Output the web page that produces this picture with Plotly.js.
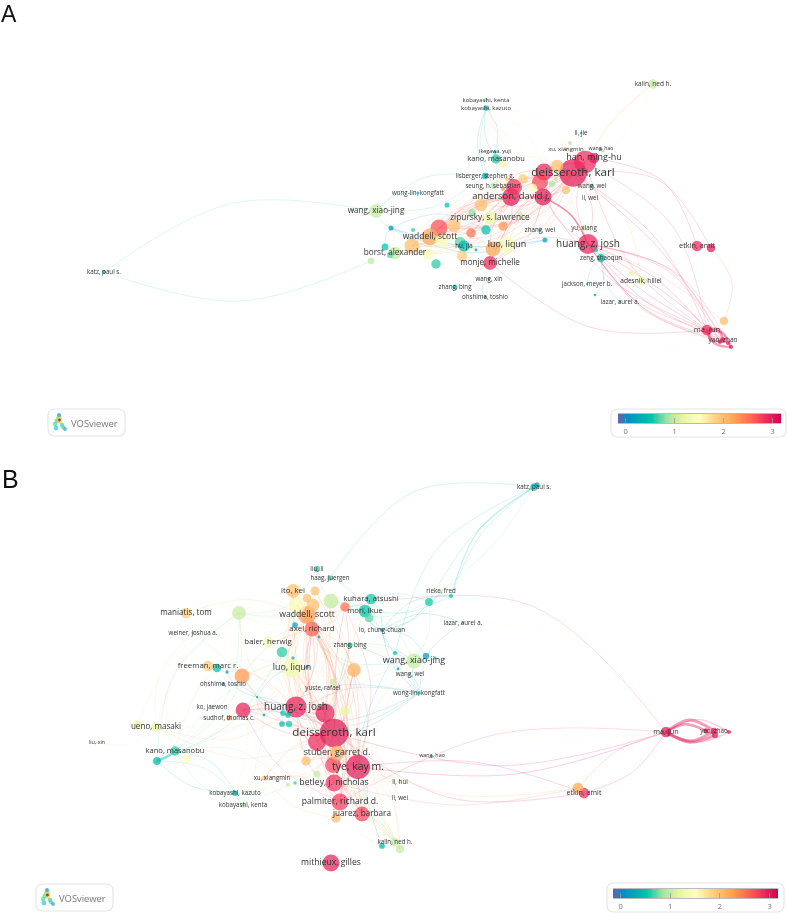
<!DOCTYPE html>
<html>
<head>
<meta charset="utf-8">
<script src="https://cdn.plot.ly/plotly-3.0.1.min.js"></script>
<style>
html,body{margin:0;padding:0;background:#fff}
#chart{width:787px;height:913px;filter:blur(0.45px)}
</style>
</head>
<body>
<div id="chart"></div>
<script>
"use strict"

// colour legend
var stopValues = [-0.155,0.05,0.52,0.85,1.15,1.5,1.85,2.25,2.6,2.85,3.17];
var stopColors = ['#6a62ae','#0090c4','#00c4a8','#a0e4a4','#e6f4a0','#ffffc0','#ffd080','#ffa050','#ff6050','#f03060','#d0004f'];
var legendTicks = [0,1,2,3];

// panel A network in page pixels
var xA = [573,585,594,544,540,543,511,514,557,523, 566,503,496,495,485,493,503,507,552,556,
	533,592,566,570,601,603,581,653,486,486, 418,447,376,353,481,472,490,520,503,486,
	471,454,439,430,442,460,464,412,395,391, 413,385,390,371,428,436,462,476,507,493,
	490,545,540,584,588,596,601,697,711,641, 632,489,455,485,587,595,620,724,707,723,
	720,731,728,104,590];
var yA = [173,162,158,172,182,197,197,187,166,179, 190,164,159,152,176,186,189,179,184,179,
	188,186,149,143,149,151,133,84,100,108, 193,205,211,210,205,213,218,214,226,230,
	233,226,228,237,241,242,246,246,253,228, 230,247,255,261,254,264,256,250,245,249,
	263,240,230,228,244,250,258,246,248,281, 273,279,287,297,284,295,302,321,330,340,
	342,347,343,272,198];
var radiusA = [13,10.5,5,8,7.5,8,8.5,7.5,6,4.5, 4,3.5,4.5,1.5,3,2.5,2,2,3,1.8,
	4,2,1.8,1.8,1.2,1.5,1.2,4.5,1.8,2.5, 1.4,2.4,6.5,1,6,3.5,6,2.4,4.3,4.5,
	4.5,6,8,8,6.5,5,5.5,7,6,2.4, 2,3.3,3,3,5.3,4.5,5,1.4,8,7,
	6.5,2.4,1.4,2.7,9.5,2,4,5,4,4, 2.7,1.4,2.4,1.4,1,1.2,1,4,5,2.7,
	2,2,2,2,0.8];
var valueA = [3,2.9,3,2.95,2.75,3,3,2.85,2,1.9, 2,1.6,0.6,0.1,0.3,0.9,2.3,2,0.9,0.9,
	1.5,0.3,2,0.9,0.05,2,0.4,1,0.8,0.4, 0.2,0.5,1,0.3,2,0.8,1.2,1,2.3,0.5,
	2.5,2,2.7,2.2,1.4,0.7,0.4,2,1,0.1, 0.6,0.5,0.7,0.95,1.4,0.6,1.9,0.1,1.4,2.2,
	2.9,0.2,0.4,1,2.95,0.5,0.45,2.9,3,1.2, 1.2,0.2,0.45,0.1,0.3,0.1,0,2,2.9,3,
	3,3,3,0.45,1];
var labelA = {0:'deisseroth, karl',2:'han, ming-hu',6:'anderson, david j.',12:'kano, masanobu',13:'ikegawa, yuji',
	14:'lisberger, stephen g.',15:'seung, h. sebastian',21:'wang, wei',22:'xu, xiangmin',24:'wang, hao',26:'li, jie',
	27:'kalin, ned h.',28:'kobayashi, kenta',29:'kobayashi, kazuto',30:'wong-lin, kongfatt',32:'wang, xiao-jing',
	36:'zipursky, s. lawrence',43:'waddell, scott',46:'hu, jia',48:'borst, alexander',58:'luo, liqun',60:'monje, michelle',
	62:'zhang, wei',63:'yu, xiang',64:'huang, z. josh',66:'zeng, shaoqun',67:'etkin, amit',69:'adesnik, hillel',
	71:'wang, xin',72:'zhang, bing',73:'ohshima, toshio',74:'jackson, meyer b.',76:'lazar, aurel a.',78:'ma, jun',
	79:'yao, zhao',83:'katz, paul s.',84:'li, wei'};
var fontA = {0:11.6,2:9,6:9.4,12:7.4,13:5.4,22:6,24:5.2,28:6,29:6,32:8.2,36:8.3,43:8.5,48:8.2,58:8.9,60:8.1,64:10,67:7.3,69:6.6,78:7.6,79:6.6,27:6.5};

var hubsA = [
	[0,[3,4,5,6,7,8,9,11,12,14,15,20,22,34,36,42,43,47,58,59,60,64,63,66,21,26,10,38,40,41,44,54,48,69]],
	[1,[64,78,79,5,6,42,43,58,60,24,25]],
	[64,[78,79,80,81,82,69,70,66,5,3,74,65,71]],
	[6,[34,36,42,43,47,48,44,54,58,59,60,40,41,38,35,31,12,13]],
	[5,[42,43,47,58,59,60,38,36,40,39,61]],
	[42,[43,47,48,41,34,36,44,51,50]],
	[43,[47,48,44,54,41,36,58,59,55]],
	[32,[49,30,14,42,47,48,33]],
	[29,[12,13,14,28,15,3,0,1]],
	[58,[59,60,41,40,56,45,38,62]],
	[60,[71,73,72,64,45,55]],
	[64,[79,80]],
	[66,[74,75,76,70]],
	[49,[51,47,46,39,61]]
];
var arcsA = [
	[83,32,0.14,1],[83,53,-0.13,1],[60,78,-0.14,0.9],[2,67,0.2,0.9],[1,27,0.06,1.2],[25,27,-0.12,0.8],
	[68,77,0.2,0.9],[5,64,0.12,1.6],[64,79,-0.08,1],[64,78,0.08,1],[64,81,0.03,1],[64,78,-0.04,1],[0,79,0.06,0.9],[5,78,-0.1,0.9],
	[0,78,0.1,0.9],[0,68,0.22,0.8],
	[78,79,0.35,2.5],[78,79,-0.35,2.5],[78,81,0.22,2.5],[78,81,-0.22,2.5],[76,82,-0.05,0.7],[49,61,-0.08,1.2],
	[71,79,-0.16,0.7],[77,64,-0.05,0.8],[29,43,0.2,0.9],[14,32,-0.15,0.9],[28,3,-0.15,0.8],[12,42,0.12,0.9],[27,20,0.14,0.7],
	[7,47,0.1,1.1],[6,42,-0.06,1.2],[3,43,0.08,1],[13,35,0.2,0.8],[4,48,0.08,0.9],[72,60,-0.2,0.8],[73,71,0.25,0.8]
];

// panel B network
var xB = [334,358,296,325,317,243,333,334,340,362, 336,337,331,306,345,333,323,354,242,292,
	282,268,208,217,227,223,257,264,212,229, 283,288,282,289,293,307,156,137,175,157,
	187,97,235,243,264,288,295,317,400,400, 432,395,400,382,419,410,398,414,426,435,
	395,350,382,312,319,295,307,313,297,307, 293,315,331,330,317,345,371,365,369,239,
	186,193,441,451,429,463,534,666,714,706, 715,729,584,578,272,537];
var yB = [733,767,707,713,742,710,765,783,802,814, 818,753,863,761,711,682,688,670,676,668,
	652,642,666,668,672,684,697,715,707,718, 713,715,724,724,658,667,727,725,751,761,
	759,743,793,805,778,785,783,774,782,798, 756,842,849,846,693,674,669,661,656,658,
	653,645,630,629,637,625,615,605,605,598, 591,591,601,578,569,607,599,611,618,613,
	613,633,591,596,602,623,487,732,731,731, 735,732,793,788,778,485];
var radiusB = [13.5,11.5,10,9,8.5,7,7.5,8,8,7, 4.5,7,8,4.5,4.5,3,1,6.5,7,9,
	5,5,5,4,1.6,1.6,1,1.3,2,2.4, 2.7,2.7,2.7,3,1.6,1.6,4.5,4.5,4.5,3.7,
	4,1.2,2.7,2.4,2.4,2,1.7,3.3,1.7,1, 1,4,4,2.7,1.7,1,1.3,7,3,1.3,
	2,2.4,1.7,7,1.3,2.7,8.5,6,8,4, 6.5,4.3,7,2.7,3,4.5,5,6,4,6.5,
	5,2,1.7,2,3.7,1,3.5,5,3,2.5, 3,2,5,5,0.8,2.5];
var valueB = [3,3,2.95,2.95,2.9,2.95,2.75,2.85,2.8,2.75, 2,2.1,2.95,2,1.2,1,1,2.1,2.3,1.3,
	0.6,1.3,1.9,0.5,0.1,0.05,0,0.15,1,2.4, 0.5,0.45,0.4,0.55,0.4,0.2,1.2,1.3,0.6,0.4,
	1.5,1.1,0.45,0.9,2,1,0.6,1,1,1, 0.1,1,1,0.4,0.1,0.2,0.1,1,0.2,0.3,
	0.45,0.45,0.05,2.6,0.1,0.2,2.3,2,1.4,2, 2,2,1,0.7,0.6,2.5,0.55,0.5,0.7,1,
	1.9,0.9,1,0.5,0.55,0.1,0.45,3,3,3, 3,3,2.9,2.2,2,0.2];
var labelB = {0:'deisseroth, karl',1:'tye, kay m.',2:'huang, z. josh',7:'betley, j. nicholas',8:'palmiter, richard d.',
	9:'juarez, barbara',11:'stuber, garret d.',12:'mithieux, gilles',16:'yuste, rafael',19:'luo, liqun',21:'baier, herwig',
	22:'freeman, marc r.',25:'ohshima, toshio',28:'ko, jaewon',29:'sudhof, thomas c.',36:'ueno, masaki',38:'kano, masanobu',
	41:'liu, xin',42:'kobayashi, kazuto',43:'kobayashi, kenta',94:'xu, xiangmin',48:'li, hui',49:'li, wei',50:'wang, hao',
	51:'kalin, ned h.',54:'wong-lin, kongfatt',55:'wang, wei',57:'wang, xiao-jing',61:'zhang, bing',62:'lo, chung-chuan',
	63:'axel, richard',66:'waddell, scott',70:'ito, kei',73:'haag, juergen',74:'liu, li',76:'kuhara, atsushi',77:'mori, ikue',
	80:'maniatis, tom',81:'weiner, joshua a.',82:'rieke, fred',85:'lazar, aurel a.',86:'katz, paul s.',87:'ma, jun',88:'yao, zhao',92:'etkin, amit'};
var fontB = {0:11.6,1:10.5,2:10,7:8.7,8:8.6,9:8.2,11:8.9,12:8.6,19:8.9,21:7.8,22:7.8,36:8.1,38:7.6,57:9,63:7.9,66:8.7,70:7.8,76:7.8,77:7.6,80:8.1,87:7.3,92:7.1,50:5.4,41:5.4};
var fontSmall = 6.2;

var hubsB = [
	[0,[2,3,4,6,7,8,9,10,11,13,14,15,17,19,5,18,66,63,68,70,72,57,48,49,51,52,47,45,44,27,33,36,38]],
	[1,[3,4,6,7,8,9,10,11,13,14,17,19,66,63,51,52,48,49,50,53,75]],
	[2,[3,4,5,18,19,20,63,66,67,68,72,77,6,7,8,9,17,79,22,36]],
	[3,[66,63,17,19,75,68,70,4,6,7,8]],
	[66,[19,63,67,68,69,70,71,72,75,21,20,79,80,18,17,14,13,47,11]],
	[63,[19,20,21,72,75,77,18,17,15,14,11,70]],
	[19,[18,21,79,22,23,29,28,36,38,11,13,60,57]],
	[79,[80,70,72,81,37,22,36,38]],
	[57,[54,55,56,58,59,60,61,62,77,76,84,65,19]],
	[62,[84,83,82,77,76,78,60,85,54,58,72]],
	[54,[27,26,31,33,61,30,55,85]],
	[26,[5,29,25,24,30,31,27,35,18]],
	[38,[39,42,43,37,36,21,19,45]],
	[39,[42,43,40,79,20]],
	[36,[37,41,40,81,22]],
	[51,[8,9,52,53,7,1,11]],
	[52,[9,1,7,8,47]],
	[42,[43,44,45,7,13]],
	[44,[10,8,11,13]],
	[5,[26,27,29,30,32,4,0,7,8]],
	[84,[82,83,76,72]]
];
var arcsB = [
	[86,83,-0.13,1.3],[86,83,-0.1,0.8],[86,84,-0.08,0.8],[86,73,-0.2,0.9],[86,60,-0.16,0.8],[86,82,0.06,0.7],
	[85,87,0.18,0.9],[75,87,0.2,0.9],[54,87,-0.1,0.8],[87,88,0.24,3],[87,88,-0.2,3],[87,89,0.18,2.5],[87,90,-0.18,3],
	[87,91,0.2,1.4],[87,91,-0.16,1.4],[88,91,0.2,1],[87,1,0.08,1],[87,0,0.1,0.9],[87,92,0.12,0.9],
	[87,93,-0.1,0.9],[87,8,-0.1,0.8],[93,7,0.08,0.9],[92,1,-0.08,0.9],[92,0,0.14,0.9],[93,11,0.1,0.8],[38,39,0.05,2.5],[38,40,-0.05,1.6],
	[79,38,0.2,0.9],[81,43,0.25,0.9],[80,43,0.2,0.9],[22,42,0.2,0.9],[70,9,-0.1,1],[72,52,-0.15,0.9],[76,51,-0.2,0.9],[77,8,-0.12,0.9],
	[61,51,-0.2,0.9],[57,51,-0.18,0.9],[57,1,-0.1,0.9],[60,53,-0.15,0.9],[17,9,-0.1,1],[17,1,-0.1,1.2],[66,8,0.1,1],[66,9,-0.1,1],
	[63,8,0.12,1],[19,8,0.12,1],[19,7,0.1,1],[75,1,-0.1,1],[72,1,-0.08,0.9],[78,1,-0.12,0.9],[77,0,-0.15,0.9],[21,7,0.15,0.9],
	[20,0,0.1,1],[68,1,0.1,1],[68,0,0.1,1],[70,0,0.12,1],[71,1,0.1,1],[73,77,0.1,0.9],[74,72,-0.1,0.9],[74,70,0.1,0.9],
	[73,79,0.2,0.9],[74,79,0.2,0.9],[82,72,0.1,0.9],[83,77,0.1,0.9]
];

// logo blobs and colours
var logoXA = [56,55,57,59,59,60,62,63,65], logoYA = [428,424,421,418,415,422,425,427,429];
var logoRadius = [2.4,2.2,2.4,2.8,2,2,2.2,2.2,2];
var logoColor = ['#30c0f0','#40e080','#50d0a0','#a0e040','#1890e0','#f0d030','#40c0f0','#60e060','#30a0f0'];
var logoHot = ['#e02020'];

var colorscale = stopValues.map(function(v,i){
	return [(v-stopValues[0])/(stopValues[stopValues.length-1]-stopValues[0]),stopColors[i]];
});

function valueColor(v){
	for(var i=1;i<stopValues.length;i++){
		if(v<=stopValues[i]){
			var t = (v-stopValues[i-1])/(stopValues[i]-stopValues[i-1]);
			var a = stopColors[i-1], b = stopColors[i], c = [];
			for(var k=1;k<7;k+=2){
				var p = parseInt(a.substr(k,2),16), q = parseInt(b.substr(k,2),16);
				c.push(Math.round(p+(q-p)*t));
			}
			return 'rgb('+c.join(',')+')';
		}
	}
	return stopColors[stopColors.length-1];
}

function linkTrace(xs,ys,vs,from,to,bend,width,xa,ya,opacity){
	var dx = xs[to]-xs[from], dy = ys[to]-ys[from];
	return {
		x:[xs[from],(xs[from]+xs[to])/2+dy*bend,xs[to]],
		y:[ys[from],(ys[from]+ys[to])/2-dx*bend,ys[to]],
		xaxis:xa, yaxis:ya,
		mode:'lines',
		line:{shape:'spline',smoothing:1,width:width,color:valueColor((vs[from]+vs[to])/2)},
		opacity:opacity,
		hoverinfo:'skip',
		showlegend:false
	};
}

function panelTraces(xs,ys,rs,vs,labels,fonts,hubs,arcs,xa,ya){
	var out = [];
	hubs.forEach(function(h){
		h[1].forEach(function(t,i){
			// curves lean both ways in the hairball
			out.push(linkTrace(xs,ys,vs,h[0],t,i%2?0.16:-0.12,0.9,xa,ya,0.18));
		});
	});
	arcs.forEach(function(a){
		out.push(linkTrace(xs,ys,vs,a[0],a[1],a[2],a[3],xa,ya,a[3]>1.5?0.42:0.2));
	});
	out.push({
		x:xs, y:ys, xaxis:xa, yaxis:ya,
		mode:'markers+text',
		text:xs.map(function(d,i){return labels[i]||''}),
		textposition:'middle center',
		textfont:{family:'Open Sans, sans-serif',color:'#333',size:xs.map(function(d,i){return fonts[i]||fontSmall})},
		marker:{size:rs.map(function(r){return r*2.12}),color:vs,colorscale:colorscale,
			cmin:stopValues[0],cmax:stopValues[stopValues.length-1],opacity:0.72,line:{width:0}},
		cliponaxis:false,
		hoverinfo:'text',
		showlegend:false
	});
	return out;
}

function legendBar(xa,ya){
	var levels = [];
	for(var v=-0.155;v<=3.17;v+=0.025) levels.push(v);
	return {
		type:'heatmap', x:levels, y:[0], z:[levels], xaxis:xa, yaxis:ya,
		colorscale:colorscale, zmin:stopValues[0], zmax:stopValues[stopValues.length-1],
		showscale:false, hoverinfo:'skip'
	};
}

function logoTraces(dx,dy,xa,ya){
	return [{
		x:logoXA.map(function(x){return x+dx}), y:logoYA.map(function(y){return y+dy}),
		xaxis:xa, yaxis:ya, mode:'markers',
		marker:{size:logoRadius.map(function(r){return r*2}),color:logoColor,line:{width:0}},
		hoverinfo:'skip', showlegend:false
	},{
		x:[59.5+dx], y:[420+dy], xaxis:xa, yaxis:ya, mode:'markers',
		marker:{size:2.8,color:logoHot,line:{width:0}},
		hoverinfo:'skip', showlegend:false
	}];
}

function roundBox(x0,y0,x1,y1,xr,yr){
	var r = 7;
	return {
		type:'path', xref:xr, yref:yr, layer:'below',
		path:'M'+(x0+r)+','+y0+' L'+(x1-r)+','+y0+' Q'+x1+','+y0+' '+x1+','+(y0+r)+' L'+x1+','+(y1-r)+' Q'+x1+','+y1+' '+(x1-r)+','+y1+
			' L'+(x0+r)+','+y1+' Q'+x0+','+y1+' '+x0+','+(y1-r)+' L'+x0+','+(y0+r)+' Q'+x0+','+y0+' '+(x0+r)+','+y0+' Z',
		line:{color:'#e6e6e6',width:1.2},
		fillcolor:'#fff'
	};
}

var W = 787, H = 913, SPLIT = 456;
function domX(a,b){return [a/W,b/W]}
function domY(a,b){return [1-b/H,1-a/H]}

var hidden = {visible:false,showgrid:false,zeroline:false,fixedrange:true};
function legendAxis(x0,x1){
	return {domain:domX(x0,x1),range:[stopValues[0],stopValues[stopValues.length-1]],
		tickvals:legendTicks,ticks:'inside',ticklen:5,tickcolor:'#999',tickwidth:0.8,
		tickfont:{family:'Open Sans, sans-serif',size:7.5,color:'#777'},
		showline:true,mirror:true,linecolor:'#bbb',linewidth:1,showgrid:false,zeroline:false,ticklabelstandoff:1};
}

var data = []
	.concat(legendBar('x3','y3'),legendBar('x4','y4'))
	.concat(panelTraces(xA,yA,radiusA,valueA,labelA,fontA,hubsA,arcsA,'x','y'))
	.concat(panelTraces(xB,yB,radiusB,valueB,labelB,fontB,hubsB,arcsB,'x2','y2'))
	.concat(logoTraces(0,0,'x','y'),logoTraces(-12,475,'x2','y2'));

var layout = {
	width:W, height:H,
	margin:{l:0,r:0,t:0,b:0},
	paper_bgcolor:'#fff', plot_bgcolor:'rgba(0,0,0,0)',
	showlegend:false,
	hovermode:'closest',
	xaxis:Object.assign({domain:[0,1],range:[0,W],anchor:'y'},hidden),
	yaxis:Object.assign({domain:domY(0,SPLIT),range:[SPLIT,0],anchor:'x'},hidden),
	xaxis2:Object.assign({domain:[0,1],range:[0,W],anchor:'y2'},hidden),
	yaxis2:Object.assign({domain:domY(SPLIT,H),range:[H,SPLIT],anchor:'x2'},hidden),
	xaxis3:Object.assign(legendAxis(618,781),{anchor:'y3'}),
	yaxis3:Object.assign({domain:domY(414,423),anchor:'x3'},hidden),
	xaxis4:Object.assign(legendAxis(613,778),{anchor:'y4'}),
	yaxis4:Object.assign({domain:domY(889,898),anchor:'x4'},hidden),
	shapes:[roundBox(48,409,125,436,'x','y'),roundBox(611,409,786,437,'x','y'),
		roundBox(36,884,113,911,'x2','y2'),roundBox(607,883,784,912,'x2','y2')],
	annotations:[
		{text:'A',xref:'paper',yref:'paper',x:0,y:1,xanchor:'left',yanchor:'top',showarrow:false,borderpad:0,
			font:{family:'Liberation Sans, Arial, sans-serif',size:23,color:'#111'}},
		{text:'B',xref:'paper',yref:'paper',x:0,y:1-479/H,xanchor:'left',yanchor:'middle',showarrow:false,
			font:{family:'Liberation Sans, Arial, sans-serif',size:25,color:'#111'}},
		{text:'VOSviewer',xref:'x',yref:'y',x:69,y:423,xanchor:'left',yanchor:'middle',showarrow:false,
			font:{family:'Open Sans, sans-serif',size:9.4,color:'#777'}},
		{text:'VOSviewer',xref:'x2',yref:'y2',x:57,y:898,xanchor:'left',yanchor:'middle',showarrow:false,
			font:{family:'Open Sans, sans-serif',size:9.4,color:'#777'}}
	]
};

Plotly.newPlot('chart',data,layout,{displayModeBar:false,staticPlot:true});
</script>
</body>
</html>
